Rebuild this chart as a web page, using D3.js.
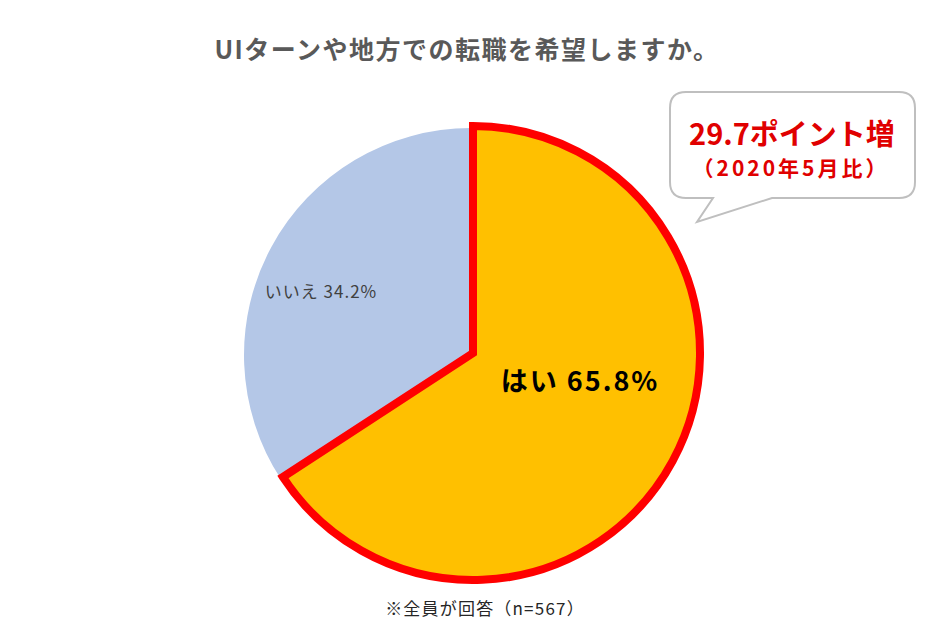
<!DOCTYPE html>
<html><head><meta charset="utf-8">
<script src="https://cdn.jsdelivr.net/npm/d3@7"></script>
<style>body{margin:0;background:#fff}svg{display:block}text{font-family:"Noto Sans CJK JP","Noto Sans",sans-serif}</style>
</head><body>
<script>
const categories = ["はい", "いいえ"];
const values = [65.8, 34.2];
const colors = ["#FFC000", "#B4C7E7"];
const title = "UIターンや地方での転職を希望しますか。";
const calloutLines = ["29.7ポイント増", "（2020年5月比）"];
const note = "※全員が回答（n=567）";

const W = 942, H = 644;
const svg = d3.select("body").append("svg").attr("width", W).attr("height", H);

svg.append("text").attr("x", 467).attr("y", 59).attr("text-anchor", "middle")
  .attr("font-size", 25).attr("letter-spacing", 1.5).attr("font-weight", 700).attr("fill", "#595959").text(title);

const data = categories.map((c, i) => ({cat: c, v: values[i], color: colors[i]}));
const pie = d3.pie().value(d => d.v).sort(null);
const arcs = pie(data);
const r = 227;
const arc = d3.arc().innerRadius(0).outerRadius(r);

const gB = svg.append("g").attr("transform", "translate(471,355)");
gB.append("path").attr("d", arc(arcs[1])).attr("fill", arcs[1].data.color);
const gA = svg.append("g").attr("transform", "translate(473,353)");
gA.append("path").attr("d", arc(arcs[0])).attr("fill", arcs[0].data.color)
  .attr("stroke", "#FF0000").attr("stroke-width", 8).attr("stroke-linejoin", "miter");

svg.append("text").attr("x", 580).attr("y", 391).attr("text-anchor", "middle")
  .attr("font-size", 27).attr("letter-spacing", 2).attr("font-weight", 700).attr("fill", "#000")
  .text(arcs[0].data.cat + " " + arcs[0].data.v.toFixed(1) + "%");
svg.append("text").attr("x", 321).attr("y", 298).attr("text-anchor", "middle")
  .attr("font-size", 17).attr("letter-spacing", 1).attr("fill", "#404040")
  .text(arcs[1].data.cat + " " + arcs[1].data.v.toFixed(1) + "%");

// callout
const x0 = 670, y0 = 92, x1 = 915, y1 = 198, rr = 16;
const tail = [[772, y1], [697, 222], [713, y1]];
const p = d3.path();
p.moveTo(x0 + rr, y0);
p.lineTo(x1 - rr, y0); p.quadraticCurveTo(x1, y0, x1, y0 + rr);
p.lineTo(x1, y1 - rr); p.quadraticCurveTo(x1, y1, x1 - rr, y1);
p.lineTo(tail[0][0], tail[0][1]); p.lineTo(tail[1][0], tail[1][1]); p.lineTo(tail[2][0], tail[2][1]);
p.lineTo(x0 + rr, y1); p.quadraticCurveTo(x0, y1, x0, y1 - rr);
p.lineTo(x0, y0 + rr); p.quadraticCurveTo(x0, y0, x0 + rr, y0);
p.closePath();
svg.append("path").attr("d", p.toString()).attr("fill", "#fff").attr("stroke", "#BFBFBF").attr("stroke-width", 2);
svg.append("text").attr("x", 792).attr("y", 145).attr("text-anchor", "middle")
  .attr("font-size", 29).attr("font-weight", 700).attr("fill", "#E00000").text(calloutLines[0]);
svg.append("text").attr("x", 791).attr("y", 176).attr("text-anchor", "middle")
  .attr("font-size", 21).attr("letter-spacing", 3).attr("font-weight", 700).attr("fill", "#E00000").text(calloutLines[1]);

svg.append("text").attr("x", 485).attr("y", 615).attr("text-anchor", "middle")
  .attr("font-size", 17).attr("letter-spacing", 1.2).attr("fill", "#262626").text(note);
</script>
</body></html>
